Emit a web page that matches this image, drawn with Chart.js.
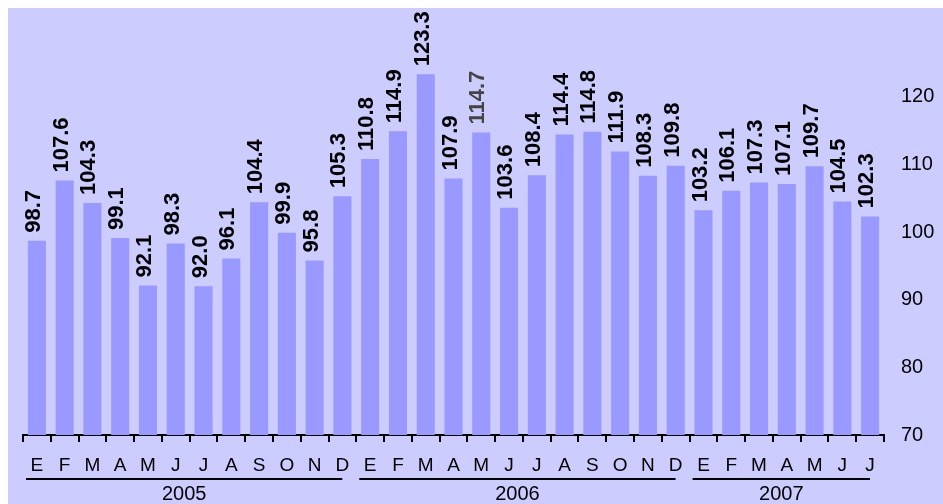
<!DOCTYPE html>
<html>
<head>
<meta charset="utf-8">
<script src="https://cdn.jsdelivr.net/npm/chart.js@4/dist/chart.umd.min.js"></script>
<style>
  body { margin: 0; background: #ffffff; }
  canvas { display: block; }
</style>
</head>
<body>
<canvas id="chart" width="943" height="504"></canvas>
<script>
var months = ["E","F","M","A","M","J","J","A","S","O","N","D",
              "E","F","M","A","M","J","J","A","S","O","N","D",
              "E","F","M","A","M","J","J"];
var values = [98.7, 107.6, 104.3, 99.1, 92.1, 98.3, 92.0, 96.1, 104.4, 99.9, 95.8, 105.3,
              110.8, 114.9, 123.3, 107.9, 114.7, 103.6, 108.4, 114.4, 114.8, 111.9, 108.3, 109.8,
              103.2, 106.1, 107.3, 107.1, 109.7, 104.5, 102.3];
var years = ["2005", "2006", "2007"];
var yearStart = [0, 12, 24];
var yearEnd = [11, 23, 30];
var yTicks = [70, 80, 90, 100, 110, 120];

var fontFamily = "'Liberation Sans', Arial, Helvetica, sans-serif";

// lavender panel behind the chart
var panelBg = {
    id: "panelBg",
    beforeDraw: function (chart) {
        var ctx = chart.ctx;
        ctx.save();
        ctx.fillStyle = "#ccccff";
        ctx.fillRect(8, 8, chart.width - 8, chart.height - 8);
        ctx.restore();
    }
};

// rotated value labels above the bars
var valueLabels = {
    id: "valueLabels",
    afterDatasetsDraw: function (chart) {
        var ctx = chart.ctx;
        var meta = chart.getDatasetMeta(0);
        ctx.save();
        ctx.font = "bold 22px " + fontFamily;
        ctx.textAlign = "left";
        ctx.textBaseline = "middle";
        meta.data.forEach(function (bar, i) {
            ctx.save();
            ctx.translate(bar.x - 3, bar.y - 8);
            ctx.rotate(-Math.PI / 2);
            ctx.fillStyle = i === 16 ? "#444444" : "#000000";
            ctx.fillText(values[i].toFixed(1), 0, 0);
            ctx.restore();
        });
        ctx.restore();
    }
};

// year groups under the month letters
var yearGroups = {
    id: "yearGroups",
    afterDraw: function (chart) {
        var ctx = chart.ctx;
        var x = chart.scales.x;
        var half = (x.getPixelForValue(1) - x.getPixelForValue(0)) / 2;
        ctx.save();
        ctx.strokeStyle = "#000000";
        ctx.lineWidth = 2;
        ctx.fillStyle = "#000000";
        ctx.font = "20px " + fontFamily;
        ctx.textAlign = "center";
        ctx.textBaseline = "middle";
        years.forEach(function (yr, k) {
            var x0 = x.getPixelForValue(yearStart[k]) - half + 3;
            var x1 = x.getPixelForValue(yearEnd[k]) + half - 14;
            ctx.beginPath();
            ctx.moveTo(x0, 479);
            ctx.lineTo(x1, 479);
            ctx.stroke();
            ctx.fillText(yr, (x0 + x1) / 2, 494);
        });
        ctx.restore();
    }
};

new Chart(document.getElementById("chart"), {
    type: "bar",
    data: {
        labels: months,
        datasets: [{
            data: values,
            backgroundColor: "#9999ff",
            borderWidth: 0,
            barPercentage: 0.65,
            categoryPercentage: 1.0
        }]
    },
    options: {
        responsive: false,
        animation: false,
        layout: { padding: { left: 23, top: 26, right: 0, bottom: 0 } },
        plugins: {
            legend: { display: false },
            tooltip: { enabled: false }
        },
        scales: {
            x: {
                offset: true,
                grid: {
                    offset: true,
                    drawOnChartArea: false,
                    drawTicks: true,
                    tickLength: 7,
                    color: "#000000",
                    lineWidth: 2
                },
                border: { display: true, color: "#000000", width: 2 },
                ticks: {
                    color: "#000000",
                    font: { family: fontFamily, size: 19 },
                    padding: 12,
                    maxRotation: 0,
                    autoSkip: false
                },
                afterFit: function (scale) { scale.height = 69; }
            },
            y: {
                position: "right",
                min: 70,
                max: 130,
                grid: { display: false, drawTicks: false },
                border: { display: false },
                ticks: {
                    color: "#000000",
                    font: { family: fontFamily, size: 20 },
                    padding: 17
                },
                afterBuildTicks: function (scale) {
                    scale.ticks = yTicks.map(function (v) { return { value: v }; });
                },
                afterFit: function (scale) { scale.width = 59; }
            }
        }
    },
    plugins: [panelBg, valueLabels, yearGroups]
});
</script>
</body>
</html>
